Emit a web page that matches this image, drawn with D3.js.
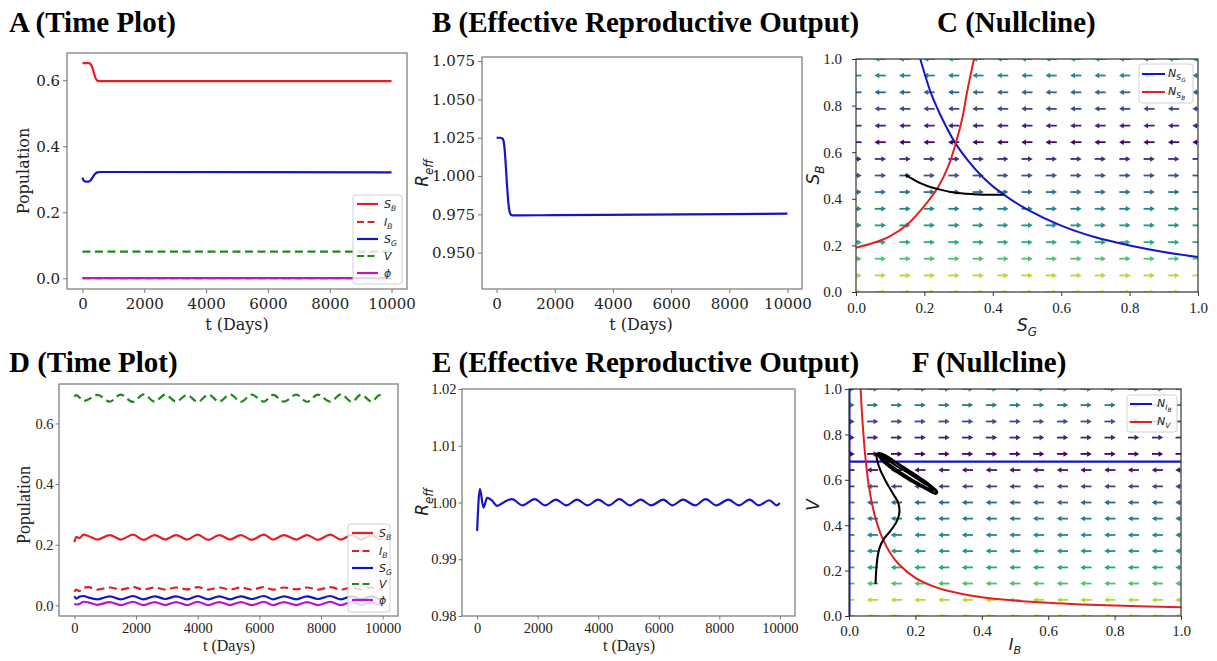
<!DOCTYPE html>
<html>
<head>
<meta charset="utf-8">
<script src="https://cdn.jsdelivr.net/npm/d3@7"></script>
<style>
  body { margin: 0; background: #fff; }
</style>
</head>
<body>
<script>
// ---------- data ----------
// shared ticks
const tickTime = [0, 2000, 4000, 6000, 8000, 10000];
const tickPop = [0, 0.2, 0.4, 0.6];
const tickReffB = [0.950, 0.975, 1.000, 1.025, 1.050, 1.075];
const tickReffE = [0.98, 0.99, 1.00, 1.01, 1.02];
const tickUnit = [0, 0.2, 0.4, 0.6, 0.8, 1.0];

// A (time plot, converging)
const timeSbA = [0, 200, 260, 300, 340, 380, 420, 470, 530, 800, 10000];
const sbA = [0.652, 0.652, 0.649, 0.643, 0.632, 0.619, 0.607, 0.600, 0.597, 0.597, 0.597];
const timeSgA = [0, 40, 100, 200, 260, 320, 380, 440, 500, 580, 800, 10000];
const sgA = [0.305, 0.296, 0.293, 0.293, 0.296, 0.304, 0.313, 0.319, 0.321, 0.322, 0.322, 0.321];
const timeFlatA = [0, 10000];
const ibA = [0, 0];
const vA = [0.0807, 0.0807];
const phiA = [0.0004, 0.0004];

// B (effective reproductive output)
const timeB = [0, 120, 200, 240, 270, 300, 330, 360, 390, 420, 450, 480, 520, 580, 700, 2000, 5000, 8000, 10000];
const reffB = [1.025, 1.025, 1.0245, 1.023, 1.019, 1.012, 1.003, 0.994, 0.986, 0.980, 0.9765, 0.9752, 0.9745, 0.9743, 0.9743, 0.9745, 0.9748, 0.9752, 0.9755];

// C (nullclines S_G / S_B)
const gridC = [0, 0.071, 0.143, 0.214, 0.286, 0.357, 0.429, 0.5, 0.571, 0.643, 0.714, 0.786, 0.857, 0.929, 1.0];
const dirC = [1, 1, 1, 1, 1, 1, 1, 1, 1, -1, -1, -1, -1, -1, -1];
const magC = [0.98, 0.88, 0.72, 0.62, 0.52, 0.45, 0.37, 0.26, 0.12, 0.02, 0.1, 0.22, 0.33, 0.47, 0.56];
const nsgX = [0.188, 0.2, 0.22, 0.25, 0.29, 0.33, 0.38, 0.43, 0.5, 0.6, 0.7, 0.8, 0.9, 1.0];
const nsgY = [1.0, 0.94, 0.85, 0.75, 0.64, 0.56, 0.48, 0.42, 0.355, 0.285, 0.235, 0.2, 0.172, 0.15];
const nsbX = [0, 0.05, 0.1, 0.15, 0.2, 0.24, 0.27, 0.29, 0.31, 0.325, 0.345];
const nsbY = [0.19, 0.21, 0.24, 0.29, 0.37, 0.45, 0.54, 0.63, 0.74, 0.86, 1.0];
const trajCX = [0.144, 0.165, 0.188, 0.215, 0.242, 0.286, 0.344, 0.403, 0.432];
const trajCY = [0.503, 0.485, 0.467, 0.452, 0.441, 0.427, 0.420, 0.417, 0.417];

// D (time plot, oscillating)
const timeD = [0, 60, 150, 300, 450, 750, 1150, 1500, 1900, 2250, 2600, 2950, 3300, 3650, 4000, 4350, 4700, 5050, 5400, 5750, 6150, 6450, 6800, 7200, 7550, 7900, 8300, 8650, 9000, 9300, 9650, 9900, 10000];
const vD = [0.688, 0.693, 0.687, 0.674, 0.679, 0.694,
  0.672, 0.695, 0.671, 0.696, 0.672, 0.695, 0.672, 0.694, 0.671, 0.695, 0.672, 0.696, 0.671, 0.695, 0.672, 0.694, 0.672, 0.695, 0.671, 0.695, 0.672, 0.696, 0.671, 0.695, 0.672,
  0.693, 0.688];
const sbD = [0.208, 0.226, 0.222, 0.233, 0.229, 0.217,
  0.232, 0.217, 0.233, 0.216, 0.232, 0.217, 0.232, 0.217, 0.233, 0.216, 0.232, 0.217, 0.232, 0.216, 0.233, 0.217, 0.232, 0.217, 0.232, 0.216, 0.233, 0.217, 0.232, 0.217, 0.232,
  0.218, 0.224];
const ibD = [0.045, 0.052, 0.047, 0.058, 0.060, 0.052,
  0.059, 0.052, 0.060, 0.052, 0.059, 0.052, 0.059, 0.053, 0.060, 0.052, 0.059, 0.052, 0.059, 0.052, 0.060, 0.052, 0.059, 0.053, 0.059, 0.052, 0.060, 0.052, 0.059, 0.052, 0.059,
  0.053, 0.056];
const sgD = [0.030, 0.022, 0.028, 0.031, 0.026, 0.020,
  0.030, 0.020, 0.031, 0.020, 0.030, 0.021, 0.030, 0.020, 0.031, 0.020, 0.030, 0.020, 0.030, 0.021, 0.031, 0.020, 0.030, 0.020, 0.030, 0.021, 0.031, 0.020, 0.030, 0.020, 0.030,
  0.021, 0.026];
const phiD = [0.006, 0.003, 0.004, 0.012, 0.010, 0.002,
  0.011, 0.001, 0.012, 0.001, 0.011, 0.001, 0.011, 0.001, 0.012, 0.001, 0.011, 0.001, 0.011, 0.001, 0.012, 0.001, 0.011, 0.001, 0.011, 0.001, 0.012, 0.001, 0.011, 0.001, 0.011,
  0.002, 0.006];

// E (effective reproductive output, oscillating)
const timeE = [0, 90, 210, 330, 480, 660, 900, 1150, 1500, 1900, 2250, 2600, 2950, 3300, 3650, 4000, 4350, 4700, 5050, 5400, 5750, 6150, 6450, 6800, 7200, 7550, 7900, 8300, 8650, 9000, 9300, 9650, 9900, 10000];
const reffE = [0.995, 1.0024, 0.9991, 1.0008, 1.0004, 0.9994, 1.0001,
  1.0006, 0.9995, 1.0006, 0.9995, 1.0005, 0.9995, 1.0005, 0.9995, 1.0005, 0.9995, 1.0006, 0.9995, 1.0005, 0.9995, 1.0005, 0.9995, 1.0005, 0.9995, 1.0006, 0.9995, 1.0005, 0.9995, 1.0005, 0.9995, 1.0004,
  0.9995, 0.9999];

// F (nullclines I_B / V)
const gridF = [0, 0.071, 0.143, 0.214, 0.286, 0.357, 0.429, 0.5, 0.571, 0.643, 0.714, 0.786, 0.857, 0.929, 1.0];
const dirF = [-1, -1, -1, -1, -1, -1, -1, -1, -1, -1, 1, 1, 1, 1, 1];
const magF = [0.98, 0.88, 0.72, 0.6, 0.53, 0.48, 0.41, 0.33, 0.2, 0.06, 0.02, 0.1, 0.24, 0.4, 0.5];
const nibLevel = 0.68;
const nvX = [0.035, 0.04, 0.045, 0.05, 0.06, 0.07, 0.08, 0.1, 0.125, 0.15, 0.2, 0.25, 0.3, 0.4, 0.5, 0.6, 0.7, 0.8, 0.9, 1.0];
const nvY = [1.0, 0.87, 0.77, 0.69, 0.57, 0.49, 0.43, 0.345, 0.275, 0.228, 0.168, 0.133, 0.11, 0.083, 0.068, 0.058, 0.051, 0.046, 0.042, 0.039];
const trajFX = [0.080, 0.082, 0.086, 0.092, 0.105, 0.125, 0.145, 0.152, 0.148, 0.132, 0.112, 0.095, 0.085, 0.083, 0.090,
  0.108, 0.153, 0.203, 0.249, 0.266, 0.262, 0.254, 0.228, 0.183, 0.133, 0.098, 0.088,
  0.093, 0.112, 0.155, 0.2, 0.243, 0.262, 0.258, 0.245, 0.22, 0.18, 0.135, 0.1, 0.09,
  0.095, 0.118, 0.16, 0.205, 0.238, 0.256, 0.25, 0.232, 0.2, 0.16, 0.12, 0.094,
  0.1, 0.125, 0.165, 0.21, 0.24, 0.252, 0.244, 0.222, 0.19, 0.15, 0.115, 0.1,
  0.11, 0.14, 0.18, 0.22, 0.246, 0.24, 0.215, 0.175, 0.135, 0.105];
const trajFY = [0.141, 0.2, 0.26, 0.3, 0.34, 0.375, 0.42, 0.46, 0.5, 0.54, 0.59, 0.64, 0.685, 0.712, 0.718,
  0.710, 0.666, 0.615, 0.571, 0.546, 0.538, 0.541, 0.563, 0.603, 0.651, 0.691, 0.708,
  0.714, 0.703, 0.662, 0.62, 0.578, 0.552, 0.544, 0.549, 0.568, 0.6, 0.642, 0.684, 0.705,
  0.712, 0.698, 0.66, 0.618, 0.585, 0.56, 0.551, 0.56, 0.585, 0.62, 0.66, 0.7,
  0.706, 0.69, 0.655, 0.612, 0.582, 0.562, 0.556, 0.568, 0.595, 0.632, 0.67, 0.698,
  0.694, 0.664, 0.628, 0.59, 0.566, 0.563, 0.58, 0.615, 0.654, 0.688];

// ---------- drawing ----------
const svg = d3.select('body').append('svg').attr('width', 1217).attr('height', 661);

const RED = '#e22020', BLUE = '#1414c8', GREEN = '#1e8a1e', MAG = '#c014c0';

function panel(cfg) {
  const x = d3.scaleLinear().domain(cfg.xd).range([cfg.left, cfg.right]);
  const y = d3.scaleLinear().domain(cfg.yd).range([cfg.bottom, cfg.top]);
  const g = svg.append('g');
  svg.append('clipPath').attr('id', 'clip' + cfg.name)
    .append('rect').attr('x', cfg.left).attr('y', cfg.top)
    .attr('width', cfg.right - cfg.left).attr('height', cfg.bottom - cfg.top);
  const plot = g.append('g').attr('clip-path', `url(#clip${cfg.name})`);

  const ax = g.append('g').attr('transform', `translate(0,${cfg.bottom})`)
    .call(d3.axisBottom(x).tickValues(cfg.xt).tickFormat(cfg.xf).tickSize(cfg.tick).tickPadding(cfg.padX));
  const ay = g.append('g').attr('transform', `translate(${cfg.left},0)`)
    .call(d3.axisLeft(y).tickValues(cfg.yt).tickFormat(cfg.yf).tickSize(cfg.tick).tickPadding(cfg.padY));
  [ax, ay].forEach(a => {
    a.select('.domain').remove();
    a.selectAll('line').attr('stroke', cfg.frame);
    a.selectAll('text').attr('font-family', cfg.font).attr('font-size', cfg.fs).attr('fill', '#222');
  });
  const frame = () => g.append('rect')
    .attr('x', cfg.left).attr('y', cfg.top)
    .attr('width', cfg.right - cfg.left).attr('height', cfg.bottom - cfg.top)
    .attr('fill', 'none').attr('stroke', cfg.frame).attr('stroke-width', 1.2);
  return { g, plot, x, y, frame };
}

function series(p, xs, ys, color, dash) {
  const line = d3.line().x(d => p.x(d[0])).y(d => p.y(d[1])).curve(d3.curveMonotoneX);
  p.plot.append('path').datum(d3.zip(xs, ys)).attr('d', line)
    .attr('fill', 'none').attr('stroke', color).attr('stroke-width', 2.2)
    .attr('stroke-dasharray', dash ? '8,4.5' : null);
}

function curve(p, xs, ys, color, width) {
  const line = d3.line().x(d => p.x(d[0])).y(d => p.y(d[1])).curve(d3.curveCatmullRom);
  p.plot.append('path').datum(d3.zip(xs, ys)).attr('d', line)
    .attr('fill', 'none').attr('stroke', color).attr('stroke-width', width);
}

function quiver(p, grid, dirs, mags) {
  const cells = [];
  grid.forEach((gy, r) => grid.forEach(gx => cells.push({ gx, gy, dir: dirs[r], mag: mags[r] })));
  const a = p.plot.selectAll('g.arrow').data(cells).join('g').attr('class', 'arrow')
    .attr('transform', d => `translate(${p.x(d.gx)},${p.y(d.gy)})`);
  a.append('line')
    .attr('x1', d => -5.5 * d.dir).attr('x2', d => 2 * d.dir)
    .attr('stroke', d => d3.interpolateViridis(d.mag)).attr('stroke-width', 1.8);
  a.append('path')
    .attr('d', d3.symbol(d3.symbolTriangle, 13))
    .attr('transform', d => `translate(${2.6 * d.dir},0) rotate(${d.dir > 0 ? 90 : -90})`)
    .attr('fill', d => d3.interpolateViridis(d.mag));
}

// italic maths label: base with subscript (and optional sub-subscript)
function math(g, x, y, base, sub, size, subsub, anchor, rotate) {
  const t = g.append('text').attr('x', x).attr('y', y)
    .attr('font-family', 'DejaVu Sans').attr('font-style', 'italic')
    .attr('font-size', size).attr('fill', '#222')
    .attr('text-anchor', anchor || 'start');
  if (rotate) t.attr('transform', `rotate(-90,${x},${y})`);
  t.append('tspan').text(base);
  if (sub) t.append('tspan').attr('font-size', size * 0.7).attr('dy', size * 0.28).text(sub);
  if (subsub) t.append('tspan').attr('font-size', size * 0.52).attr('dy', size * 0.16).text(subsub);
  return t;
}

function plainLabel(g, x, y, text, font, size, rotate) {
  const t = g.append('text').attr('x', x).attr('y', y).attr('text-anchor', 'middle')
    .attr('font-family', font).attr('font-size', size).attr('fill', '#222').text(text);
  if (rotate) t.attr('transform', `rotate(-90,${x},${y})`);
}

function legendBox(g, x0, y0, w, h) {
  g.append('rect').attr('x', x0).attr('y', y0).attr('width', w).attr('height', h).attr('rx', 3)
    .attr('fill', '#fff').attr('fill-opacity', 0.8).attr('stroke', '#d0d0d0').attr('stroke-width', 1);
}

function timeLegend(p, x0, y0, w, h, rowY, entries) {
  legendBox(p.g, x0, y0, w, h);
  entries.forEach((e, i) => {
    p.g.append('line').attr('x1', x0 + 4).attr('x2', x0 + 25).attr('y1', rowY[i]).attr('y2', rowY[i])
      .attr('stroke', e.color).attr('stroke-width', 2.2).attr('stroke-dasharray', e.dash ? '7,3.5' : null);
    math(p.g, x0 + 31, rowY[i] + 4, e.base, e.sub, 11);
  });
}

const legendEntries = [
  { base: 'S', sub: 'B', color: RED, dash: false },
  { base: 'I', sub: 'B', color: RED, dash: true },
  { base: 'S', sub: 'G', color: BLUE, dash: false },
  { base: 'V', sub: null, color: GREEN, dash: true },
  { base: 'ϕ', sub: null, color: MAG, dash: false }
];

const fmt1 = d3.format('.1f');

// ----- A -----
const pA = panel({ name: 'A', left: 67, right: 407, top: 53, bottom: 289,
  xd: [-500, 10500], yd: [-0.0325, 0.6825], xt: tickTime, yt: tickPop,
  xf: d3.format('d'), yf: fmt1, tick: 4, padX: 5, padY: 3,
  font: 'DejaVu Serif', fs: 15, frame: '#777' });
series(pA, timeSbA, sbA, RED, false);
series(pA, timeFlatA, ibA, RED, true);
series(pA, timeSgA, sgA, BLUE, false);
series(pA, timeFlatA, vA, GREEN, true);
series(pA, timeFlatA, phiA, MAG, false);
pA.frame();
timeLegend(pA, 353, 195, 49, 89, [204, 222, 239, 256, 273], legendEntries);
plainLabel(pA.g, 237, 330, 't (Days)', 'DejaVu Serif', 16);
plainLabel(pA.g, 29, 171, 'Population', 'DejaVu Serif', 16, true);

// ----- B -----
const pB = panel({ name: 'B', left: 482, right: 802, top: 57, bottom: 289,
  xd: [-500, 10500], yd: [0.9263, 1.0777], xt: tickTime, yt: tickReffB,
  xf: d3.format('d'), yf: d3.format('.3f'), tick: 4, padX: 5, padY: 3,
  font: 'DejaVu Serif', fs: 15, frame: '#777' });
series(pB, timeB, reffB, BLUE, false);
pB.frame();
plainLabel(pB.g, 641, 330, 't (Days)', 'DejaVu Serif', 16);
math(pB.g, 428, 173, 'R', 'eff', 17, null, 'middle', true);

// ----- C -----
const pC = panel({ name: 'C', left: 856, right: 1198, top: 59, bottom: 292,
  xd: [0, 1], yd: [0, 1], xt: tickUnit, yt: tickUnit,
  xf: fmt1, yf: fmt1, tick: 4, padX: 6, padY: 10,
  font: 'Liberation Serif', fs: 15, frame: '#333' });
quiver(pC, gridC, dirC, magC);
curve(pC, nsgX, nsgY, BLUE, 2);
curve(pC, nsbX, nsbY, RED, 2);
curve(pC, trajCX, trajCY, '#000', 2);
pC.frame();
legendBox(pC.g, 1139, 64, 54, 39);
pC.g.append('line').attr('x1', 1142).attr('x2', 1165).attr('y1', 74).attr('y2', 74).attr('stroke', BLUE).attr('stroke-width', 2);
pC.g.append('line').attr('x1', 1142).attr('x2', 1165).attr('y1', 92).attr('y2', 92).attr('stroke', RED).attr('stroke-width', 2);
math(pC.g, 1168, 77, 'N', 'S', 11, 'G');
math(pC.g, 1168, 95, 'N', 'S', 11, 'B');
math(pC.g, 1027, 331, 'S', 'G', 17, null, 'middle');
math(pC.g, 819, 175, 'S', 'B', 17, null, 'middle', true);

// ----- D -----
const pD = panel({ name: 'D', left: 59, right: 398, top: 384, bottom: 616,
  xd: [-500, 10500], yd: [-0.035, 0.73], xt: tickTime, yt: tickPop,
  xf: d3.format('d'), yf: fmt1, tick: 3.5, padX: 3, padY: 2,
  font: 'Liberation Serif', fs: 14.5, frame: '#777' });
series(pD, timeD, sbD, RED, false);
series(pD, timeD, ibD, RED, true);
series(pD, timeD, sgD, BLUE, false);
series(pD, timeD, vD, GREEN, true);
series(pD, timeD, phiD, MAG, false);
pD.frame();
timeLegend(pD, 348, 524, 42, 88, [533, 551, 568, 584, 600], legendEntries);
plainLabel(pD.g, 229, 651, 't (Days)', 'Liberation Serif', 16);
plainLabel(pD.g, 30, 505, 'Population', 'Liberation Serif', 18, true);

// ----- E -----
const pE = panel({ name: 'E', left: 462, right: 795, top: 389, bottom: 616,
  xd: [-500, 10500], yd: [0.98, 1.02], xt: tickTime, yt: tickReffE,
  xf: d3.format('d'), yf: d3.format('.2f'), tick: 3.5, padX: 3, padY: 2,
  font: 'Liberation Serif', fs: 14.5, frame: '#777' });
series(pE, timeE, reffE, BLUE, false);
pE.frame();
plainLabel(pE.g, 629, 651, 't (Days)', 'Liberation Serif', 16);
math(pE.g, 428, 502, 'R', 'eff', 17, null, 'middle', true);

// ----- F -----
const pF = panel({ name: 'F', left: 849, right: 1181, top: 389, bottom: 616,
  xd: [0, 1], yd: [0, 1], xt: tickUnit, yt: tickUnit,
  xf: fmt1, yf: fmt1, tick: 4, padX: 5, padY: 3,
  font: 'Liberation Serif', fs: 15, frame: '#333' });
quiver(pF, gridF, dirF, magF);
pF.plot.append('line').attr('x1', pF.x(0)).attr('x2', pF.x(1)).attr('y1', pF.y(nibLevel)).attr('y2', pF.y(nibLevel))
  .attr('stroke', BLUE).attr('stroke-width', 2.2);
pF.plot.append('line').attr('x1', pF.x(0)).attr('x2', pF.x(0)).attr('y1', pF.y(0)).attr('y2', pF.y(1))
  .attr('stroke', BLUE).attr('stroke-width', 3);
curve(pF, nvX, nvY, RED, 2);
curve(pF, trajFX, trajFY, '#000', 2.1);
pF.frame();
legendBox(pF.g, 1127, 395, 50, 37);
pF.g.append('line').attr('x1', 1130).attr('x2', 1152).attr('y1', 404).attr('y2', 404).attr('stroke', BLUE).attr('stroke-width', 2);
pF.g.append('line').attr('x1', 1130).attr('x2', 1152).attr('y1', 422).attr('y2', 422).attr('stroke', RED).attr('stroke-width', 2);
math(pF.g, 1157, 407, 'N', 'I', 11, 'B');
math(pF.g, 1157, 425, 'N', 'V', 11);
math(pF.g, 1015, 650, 'I', 'B', 16, null, 'middle');
math(pF.g, 819, 505, 'V', null, 17, null, 'middle', true);

// ----- panel titles -----
const titles = [
  { t: 'A (Time Plot)', x: 9, y: 32 },
  { t: 'B (Effective Reproductive Output)', x: 432, y: 32 },
  { t: 'C (Nullcline)', x: 937, y: 32 },
  { t: 'D (Time Plot)', x: 9, y: 372 },
  { t: 'E (Effective Reproductive Output)', x: 432, y: 372 },
  { t: 'F (Nullcline)', x: 912, y: 372 }
];
svg.selectAll('text.title').data(titles).join('text').attr('class', 'title')
  .attr('x', d => d.x).attr('y', d => d.y).text(d => d.t)
  .attr('font-family', 'Liberation Serif').attr('font-weight', 'bold')
  .attr('font-size', 29).attr('fill', '#000');
</script>
</body>
</html>
